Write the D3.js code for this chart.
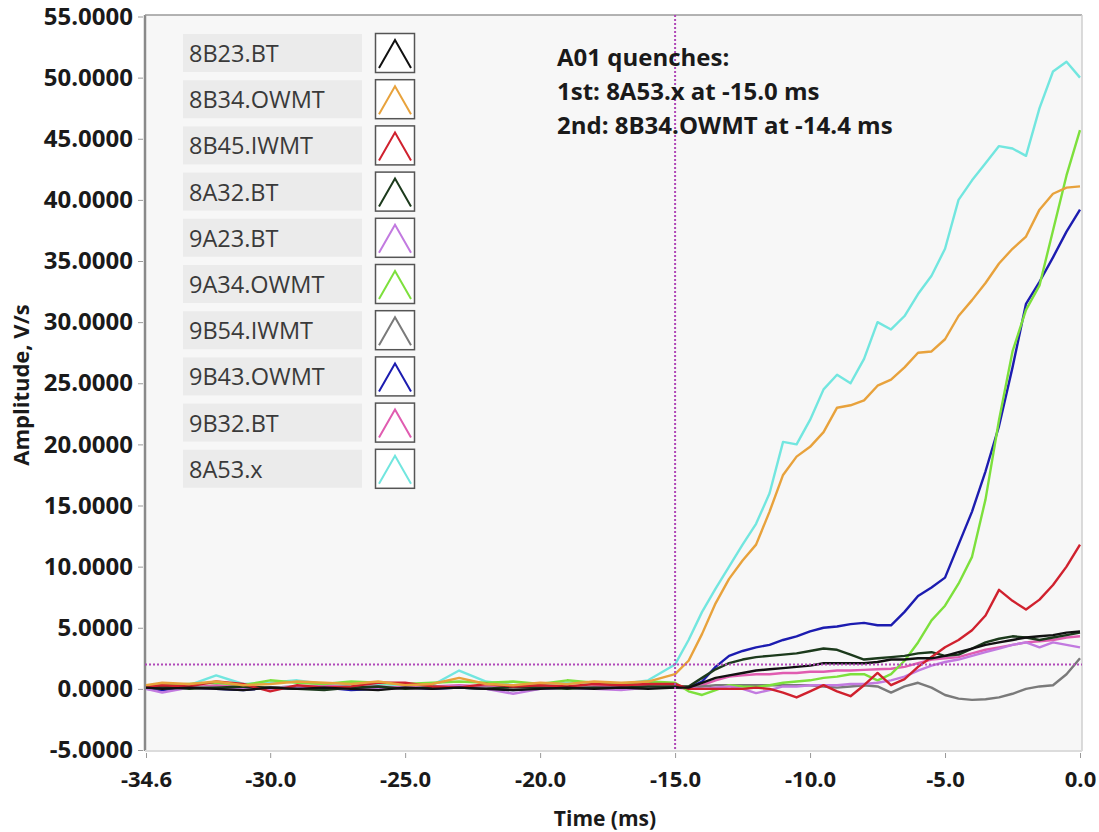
<!DOCTYPE html>
<html><head><meta charset="utf-8">
<script src="https://cdn.jsdelivr.net/npm/d3@7"></script>
<style>body{margin:0;background:#fff}text{font-family:"Open Sans","Noto Sans",sans-serif}</style>
</head><body><svg id="c" width="1099" height="832"></svg>
<script>
const times = [-34.6,-34,-33,-32,-31,-30,-29,-28,-27,-26,-25,-24,-23,-22,-21,-20,-19,-18,-17,-16,
  -15,-14.5,-14,-13.5,-13,-12.5,-12,-11.5,-11,-10.5,-10,-9.5,-9,-8.5,-8,-7.5,-7,-6.5,-6,-5.5,-5,-4.5,-4,-3.5,-3,-2.5,-2,-1.5,-1,-0.5,0];
const seriesNames = ["8B23.BT","8B34.OWMT","8B45.IWMT","8A32.BT","9A23.BT","9A34.OWMT","9B54.IWMT","9B43.OWMT","9B32.BT","8A53.x"];
const seriesColors = ["#111111","#e8a23c","#d0212e","#1c3a1c","#c27ae0","#7de03c","#7a7a7a","#1c1cb0","#e05cb0","#72e6df"];
const vals8B23BT = [0.1,0.0,0.1,0.0,-0.1,0.1,0.0,0.1,0.0,-0.1,0.1,0.0,0.1,0.0,-0.1,0.0,0.1,0.0,0.1,0.0,
  0.1,0.1,0.5,0.9,1.1,1.3,1.5,1.6,1.7,1.8,1.9,2.1,2.1,2.1,2.1,2.2,2.4,2.4,2.5,2.5,2.7,3.0,3.3,3.6,3.8,4.0,4.2,4.3,4.4,4.6,4.7];
const vals8B34OWMT = [0.3,0.5,0.4,0.6,0.3,0.4,0.6,0.5,0.4,0.6,0.3,0.4,0.9,0.4,0.3,0.5,0.4,0.6,0.5,0.6,
  1.2,2.3,4.5,7.0,9.0,10.5,11.8,14.5,17.5,19.0,19.8,21.0,23.0,23.2,23.6,24.8,25.3,26.3,27.5,27.6,28.6,30.5,31.8,33.2,34.8,36.0,37.0,39.2,40.5,41.0,41.1];
const vals8B45IWMT = [0.2,0.3,0.2,0.6,0.4,-0.2,0.3,0.1,0.2,0.5,0.5,0.2,0.1,0.4,0.2,0.3,0.2,0.4,0.3,0.4,
  0.4,0.0,0.0,0.0,0.0,0.0,0.1,0.0,-0.3,-0.7,-0.2,0.3,-0.2,-0.6,0.3,1.3,0.3,0.8,1.8,2.6,3.4,4.0,4.8,6.0,8.1,7.2,6.5,7.3,8.5,10.0,11.8];
const vals8A32BT = [0.1,0.2,0.0,0.1,0.2,0.1,0.0,-0.1,0.1,0.2,0.0,0.1,0.1,0.0,0.2,0.1,0.0,0.1,0.1,0.2,
  0.2,0.2,0.9,1.6,2.1,2.4,2.6,2.7,2.8,2.9,3.1,3.3,3.2,2.8,2.4,2.5,2.6,2.7,2.9,3.0,2.7,2.8,3.3,3.8,4.1,4.3,4.2,4.0,4.2,4.4,4.6];
const vals9A23BT = [0.0,-0.3,0.1,0.0,0.1,0.0,0.2,0.1,0.0,0.1,0.0,0.1,0.2,0.0,-0.4,0.0,0.1,0.0,-0.1,0.1,
  0.2,0.1,0.0,0.1,0.2,0.0,-0.35,-0.1,0.2,0.2,0.3,0.3,0.3,0.4,0.4,0.5,0.7,1.0,1.5,1.9,2.2,2.4,2.7,3.0,3.3,3.6,3.8,3.4,3.8,3.6,3.4];
const vals9A34OWMT = [0.2,0.3,0.4,0.5,0.3,0.7,0.5,0.4,0.6,0.5,0.4,0.5,0.6,0.5,0.6,0.4,0.7,0.5,0.4,0.6,
  0.5,-0.2,-0.5,-0.1,0.3,0.2,0.15,0.3,0.5,0.6,0.7,0.9,1.0,1.2,1.2,0.7,1.2,2.3,3.8,5.6,6.8,8.6,10.8,15.5,22.0,27.6,31.0,33.0,37.5,42.0,45.7];
const vals9B54IWMT = [0.1,0.0,0.2,0.1,0.0,0.1,0.2,0.0,0.1,0.1,0.0,0.2,0.1,0.1,0.0,0.1,0.2,0.1,0.0,0.1,
  0.1,0.1,0.2,0.3,0.3,0.3,0.3,0.3,0.3,0.3,0.3,0.2,0.1,0.2,0.3,0.2,-0.3,0.2,0.5,0.1,-0.5,-0.8,-0.9,-0.85,-0.7,-0.4,0.0,0.2,0.3,1.2,2.5];
const vals9B43OWMT = [0.0,-0.1,0.1,0.0,-0.1,0.1,0.0,0.1,-0.1,0.0,0.1,0.0,0.1,0.0,-0.1,0.0,0.1,0.0,0.1,0.1,
  0.1,0.1,0.6,1.8,2.7,3.1,3.4,3.6,4.0,4.3,4.7,5.0,5.1,5.3,5.4,5.2,5.2,6.3,7.6,8.3,9.1,11.8,14.5,17.8,21.5,26.3,31.5,33.3,35.3,37.4,39.2];
const vals9B32BT = [0.1,0.2,0.1,0.3,0.2,0.1,0.2,0.3,0.1,0.2,0.1,0.2,0.3,0.2,0.1,0.2,0.1,0.2,0.3,0.2,
  0.1,0.0,0.3,0.7,1.0,1.1,1.2,1.2,1.3,1.3,1.4,1.4,1.5,1.5,1.55,1.6,1.65,1.8,2.1,2.4,2.5,2.6,2.9,3.2,3.4,3.6,3.8,3.9,4.0,4.2,4.3];
const vals8A53x = [0.1,0.2,0.3,1.1,0.4,0.5,0.7,0.4,0.3,0.4,0.3,0.3,1.5,0.6,0.3,0.4,0.5,0.4,0.4,0.7,
  2.0,4.0,6.3,8.2,10.0,11.8,13.5,16.0,20.2,20.0,22.0,24.5,25.7,25.0,27.0,30.0,29.4,30.5,32.3,33.8,36.0,40.0,41.6,43.0,44.4,44.2,43.6,47.5,50.5,51.3,50.0];
const yTicks = [55,50,45,40,35,30,25,20,15,10,5,0,-5];
const xTicks = [-34.6,-30,-25,-20,-15,-10,-5,0];
const thresholdValue = 2.0;
const markerTime = -15.0;
const annotationLines = ["A01 quenches:","1st: 8A53.x at -15.0 ms","2nd: 8B34.OWMT at -14.4 ms"];
const xTitle = "Time (ms)";
const yTitle = "Amplitude, V/s";

const allValues = [vals8B23BT,vals8B34OWMT,vals8B45IWMT,vals8A32BT,vals9A23BT,vals9A34OWMT,vals9B54IWMT,vals9B43OWMT,vals9B32BT,vals8A53x];
const series = seriesNames.map((n,i)=>({name:n,color:seriesColors[i],pts:times.map((t,j)=>[t,allValues[i][j]])}));

const svg = d3.select("#c");
const L=145,R=1082,T=15,B=751;
const x = d3.scaleLinear().domain([-34.6,0]).range([146,1080]);
const y = d3.scaleLinear().domain([-5,55]).range([750,16.5]);
const hy = s => s.replace("\u2212","-");

svg.append("rect").attr("x",L).attr("y",T).attr("width",R-L).attr("height",B-T).attr("fill","#f7f7f7");
svg.append("defs").append("clipPath").attr("id","clip").append("rect").attr("x",L).attr("y",T).attr("width",R-L).attr("height",B-T);

// axes
const yAxis = d3.axisLeft(y).tickValues(yTicks).tickFormat(d=>hy(d3.format(".4f")(d))).tickSize(5).tickPadding(5);
const gy = svg.append("g").attr("transform",`translate(${L-2},0)`).call(yAxis);
gy.select(".domain").remove();
gy.selectAll(".tick line").attr("stroke","#999");
gy.selectAll("text").attr("font-size",24).attr("font-weight",700).attr("fill","#1a1a1a");

const xAxis = d3.axisBottom(x).tickValues(xTicks).tickFormat(d=>hy(d3.format(".1f")(d))).tickSize(5).tickPadding(13);
const gx = svg.append("g").attr("transform",`translate(0,${B+2})`).call(xAxis);
gx.select(".domain").remove();
gx.selectAll(".tick line").attr("stroke","#999");
gx.selectAll("text").attr("font-size",22).attr("font-weight",700).attr("fill","#1a1a1a");

// frame
svg.append("line").attr("x1",L).attr("x2",L).attr("y1",T).attr("y2",B).attr("stroke","#8a8a8a").attr("stroke-width",2.5);
svg.append("line").attr("x1",L).attr("x2",R).attr("y1",T).attr("y2",T).attr("stroke","#9a9a9a").attr("stroke-width",1.5);
svg.append("line").attr("x1",R).attr("x2",R).attr("y1",T).attr("y2",B).attr("stroke","#cfcfcf").attr("stroke-width",1.5);
svg.append("line").attr("x1",L).attr("x2",R).attr("y1",B).attr("y2",B).attr("stroke","#dcdcdc").attr("stroke-width",2);

// titles
svg.append("text").attr("x",605).attr("y",826).attr("text-anchor","middle").attr("font-size",21).attr("font-weight",700).attr("fill","#1a1a1a").text(xTitle);
svg.append("text").attr("transform","translate(29,385) rotate(-90)").attr("text-anchor","middle").attr("font-size",22).attr("font-weight",700).attr("fill","#1a1a1a").text(yTitle);

// lines
const plot = svg.append("g").attr("clip-path","url(#clip)");
const line = d3.line().x(d=>x(d[0])).y(d=>y(d[1]));
plot.selectAll("path.s").data(series.slice().reverse()).join("path").attr("class","s")
  .attr("d",d=>line(d.pts)).attr("fill","none").attr("stroke",d=>d.color).attr("stroke-width",2.4).attr("stroke-linejoin","round");

// cursors
plot.append("line").attr("x1",x(markerTime)).attr("x2",x(markerTime)).attr("y1",T).attr("y2",B)
  .attr("stroke","#b048b8").attr("stroke-width",2).attr("stroke-dasharray","2,2");
plot.append("line").attr("x1",L).attr("x2",R).attr("y1",y(thresholdValue)).attr("y2",y(thresholdValue))
  .attr("stroke","#b048b8").attr("stroke-width",2).attr("stroke-dasharray","2,2");

// legend
const leg = svg.append("g");
const rowH = 46.2, row0 = 34;
series.forEach((s,i)=>{
  const ty = row0 + i*rowH;
  leg.append("rect").attr("x",183).attr("y",ty).attr("width",179).attr("height",38).attr("fill","#ebebeb");
  leg.append("text").attr("x",189).attr("y",ty+28).attr("font-size",23.5).attr("fill","#3a3a3a").text(s.name);
  leg.append("rect").attr("x",375.5).attr("y",ty-0.5).attr("width",39).attr("height",39).attr("fill","#fff").attr("stroke","#555").attr("stroke-width",1.5);
  leg.append("path").attr("d",`M${379},${ty+34} L${395},${ty+6} L${411},${ty+34}`).attr("fill","none").attr("stroke",s.color).attr("stroke-width",2);
});

// annotation
const ann = svg.append("text").attr("font-size",24).attr("font-weight",700).attr("fill","#1a1a1a");
annotationLines.forEach((l,i)=>ann.append("tspan").attr("x",557).attr("y",66+i*34).text(l));
</script></body></html>
